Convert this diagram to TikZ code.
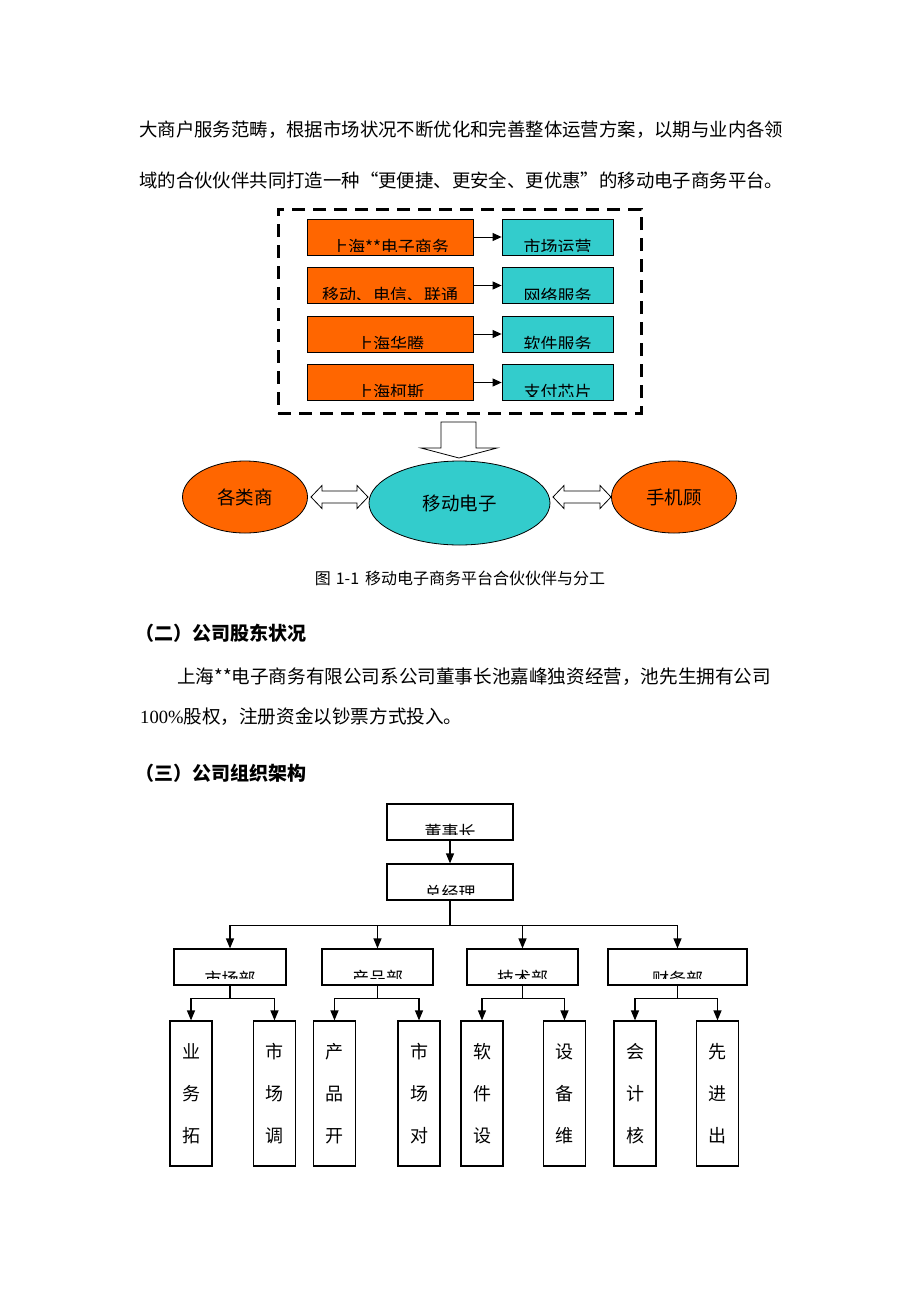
\documentclass[tikz,border=0pt]{standalone}
\usepackage{fontspec}
\setmainfont{Noto Sans CJK SC}
\newfontfamily\latinserif{Liberation Serif}
\usetikzlibrary{arrows.meta,calc,shapes.geometric}
\definecolor{orng}{HTML}{FF6600}
\definecolor{tealc}{HTML}{33CCCC}
\begin{document}
\begin{tikzpicture}[x=1pt,y=-1pt,
  body/.style={font=\fontsize{18.4}{18.4}\selectfont, inner sep=0, anchor=west},
  head/.style={font=\fontsize{19}{19}\selectfont\bfseries, inner sep=0, anchor=west},
  cl/.style n args={4}{path picture={
      \node[font=\fontsize{17}{17}\selectfont, inner sep=0] at ([yshift=#2]path picture bounding box.center) {#1};
      \fill[#3] (path picture bounding box.south west) rectangle ([yshift=#4]path picture bounding box.south east);}},
  ob/.style={draw, line width=0.8pt, fill=orng, inner sep=0, minimum width=166pt, minimum height=36pt},
  tb/.style={draw, line width=0.8pt, fill=tealc, inner sep=0, minimum width=111pt, minimum height=36pt},
  sa/.style={-{Triangle[length=9pt,width=8pt]}, line width=1pt},
  el/.style={ellipse, draw, line width=0.8pt, inner sep=0, font=\fontsize{18.5}{18.5}\selectfont},
  hollow/.style={draw, fill=white, line width=0.8pt},
  wb/.style={draw, line width=1.2pt, fill=white, inner sep=0, minimum height=36pt},
  sb/.style={draw, line width=1.2pt, fill=white, inner sep=0, minimum width=42pt, minimum height=145pt, align=center, font=\fontsize{18}{42}\selectfont},
  ol/.style={line width=1.2pt},
  oa/.style={-{Triangle[length=10pt,width=8pt]}, line width=1.2pt}]
\fill[white] (0,0) rectangle (920,1302);
\useasboundingbox (0,0) rectangle (920,1302);

% paragraph text
\node[body] (p1) at (139,130) {大商户服务范畴，根据市场状况不断优化和完善整体运营方案，以期与业内各领};
\node[body] (p2) at (139,180) {域的合伙伙伴共同打造一种“更便捷、更安全、更优惠”的移动电子商务平台。};

% dashed frame
\node[draw, line width=3pt, dash pattern=on 13pt off 8pt, minimum width=363pt, minimum height=204pt, inner sep=0] (fr) at (459.5,311) {};

% partner boxes
\node[ob, cl={上海**电子商务}{-10pt}{orng}{3.5pt}] (o1) at (390,237) {};
\node[ob, cl={移动、电信、联通}{-10pt}{orng}{3.5pt}] (o2) at (390,285.5) {};
\node[ob, cl={上海华腾}{-10pt}{orng}{3.5pt}] (o3) at (390,334) {};
\node[ob, cl={上海柯斯}{-10pt}{orng}{3.5pt}] (o4) at (390,382.5) {};
\node[tb, cl={市场运营}{-10pt}{tealc}{3.5pt}] (t1) at (557.5,237) {};
\node[tb, cl={网络服务}{-10pt}{tealc}{3.5pt}] (t2) at (557.5,285.5) {};
\node[tb, cl={软件服务}{-10pt}{tealc}{3.5pt}] (t3) at (557.5,334) {};
\node[tb, cl={支付芯片}{-10pt}{tealc}{3.5pt}] (t4) at (557.5,382.5) {};
\foreach \i in {1,2,3,4} \draw[sa] (o\i.east) -- (t\i.west);

% big hollow down arrow
\draw[hollow] (441,422) -- (476,422) -- (476,448) -- (497,448) -- (459,458) -- (421,448) -- (441,448) -- cycle;

% ellipses
\node[el, fill=orng, minimum width=125pt, minimum height=72pt] (e1) at (245,497) {各类商};
\node[el, fill=tealc, minimum width=181pt, minimum height=84pt] (e2) at (459.5,503) {移动电子};
\node[el, fill=orng, minimum width=125pt, minimum height=72pt] (e3) at (674,497) {手机顾};

% hollow double arrows
\draw[hollow] (311,497) -- (322,485.5) -- (322,491) -- (357,491) -- (357,485.5) -- (368,497) -- (357,508.5) -- (357,503) -- (322,503) -- (322,508.5) -- cycle;
\draw[hollow] (553,497) -- (564,485.5) -- (564,491) -- (600,491) -- (600,485.5) -- (611,497) -- (600,508.5) -- (600,503) -- (564,503) -- (564,508.5) -- cycle;

% caption
\node[font=\fontsize{16}{16}\selectfont, inner sep=0] (cap) at (460,578) {图\hspace{5pt}1-1\hspace{6pt}移动电子商务平台合伙伙伴与分工};

% section text
\node[head] (h2) at (135,633) {（二）公司股东状况};
\node[body, font=\fontsize{18.6}{18.6}\selectfont] (p3) at (177,677) {上海**电子商务有限公司系公司董事长池嘉峰独资经营，池先生拥有公司};
\node[body, font=\fontsize{18.6}{18.6}\selectfont] (p4) at (140,717) {{\latinserif 100\%}股权，注册资金以钞票方式投入。};
\node[head] (h3) at (135,773) {（三）公司组织架构};

% org chart
\node[wb, minimum width=126pt, cl={董事长}{-10.5pt}{white}{5pt}] (ch) at (450,822) {};
\node[wb, minimum width=126pt, cl={总经理}{-10.5pt}{white}{5pt}] (gm) at (450,882) {};
\node[wb, minimum width=112pt, cl={市场部}{-11.5pt}{white}{6pt}] (d1) at (230,967) {};
\node[wb, minimum width=111pt, cl={产品部}{-11.5pt}{white}{6pt}] (d2) at (377.5,967) {};
\node[wb, minimum width=111pt, cl={技术部}{-11.5pt}{white}{6pt}] (d3) at (522.5,967) {};
\node[wb, minimum width=139pt, cl={财务部}{-11.5pt}{white}{6pt}] (d4) at (677.5,967) {};

\node[sb] (s1) at (191,1093.5) {业\\务\\拓};
\node[sb] (s2) at (274.5,1093.5) {市\\场\\调};
\node[sb] (s3) at (334.5,1093.5) {产\\品\\开};
\node[sb] (s4) at (419,1093.5) {市\\场\\对};
\node[sb] (s5) at (482,1093.5) {软\\件\\设};
\node[sb] (s6) at (564.5,1093.5) {设\\备\\维};
\node[sb] (s7) at (635,1093.5) {会\\计\\核};
\node[sb] (s8) at (717.5,1093.5) {先\\进\\出};

\draw[oa] (ch.south) -- (gm.north);
\coordinate (bus) at ($(gm.south)+(0,25)$);
\draw[ol] (gm.south) -- (bus);
\foreach \d in {d1,d2,d3,d4} \draw[oa] (bus) -| (\d.north);
\foreach \d/\a/\b in {d1/s1/s2, d2/s3/s4, d3/s5/s6, d4/s7/s8} {
  \draw[ol] (\d.south) -- ++(0,13) coordinate (j\d);
  \draw[oa] (j\d) -| (\a.north);
  \draw[oa] (j\d) -| (\b.north);
}
\end{tikzpicture}
\end{document}
